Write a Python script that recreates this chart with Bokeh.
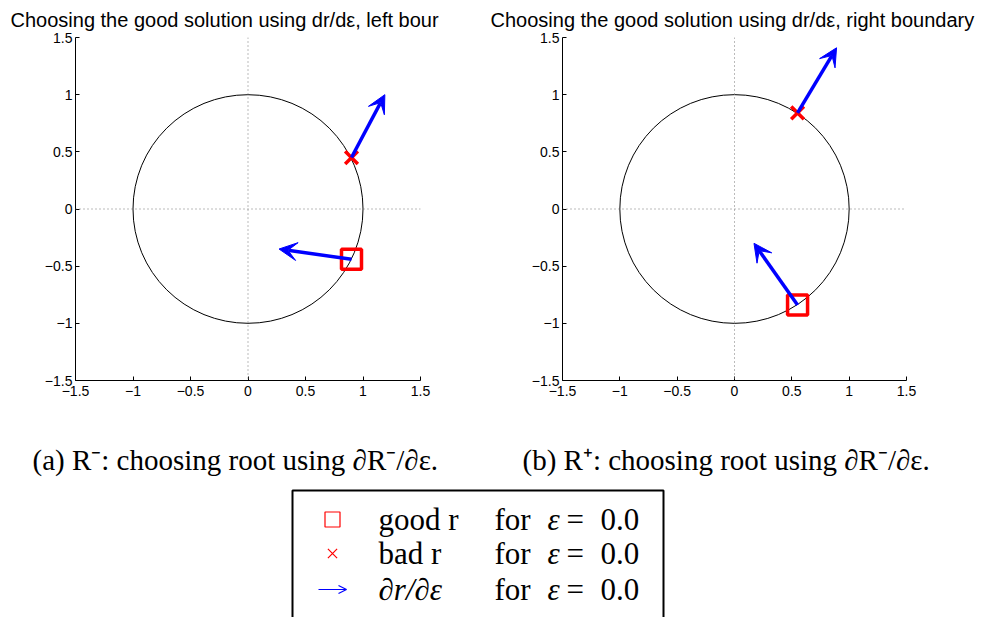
from bokeh.plotting import figure
from bokeh.models import Range1d, FixedTicker, Arrow, VeeHead, OpenHead, ColumnDataSource, Span
from bokeh.layouts import column, row
from bokeh.embed import file_html
from bokeh.resources import INLINE
from bokeh.core.properties import value

# ---------------- data ----------------
titles = ["Choosing the good solution using dr/d\u03b5, left bour",
          "Choosing the good solution using dr/d\u03b5, right boundary"]
captions = ["(a) R\u207b: choosing root using \u2202R\u207b/\u2202\u03b5.",
            "(b) R\u207a: choosing root using \u2202R\u207b/\u2202\u03b5."]
ticks = [-1.5, -1.0, -0.5, 0.0, 0.5, 1.0, 1.5]
tick_labels = ["\u22121.5", "\u22121", "\u22120.5", "0", "0.5", "1", "1.5"]

circle_x = [0.0]
circle_y = [0.0]
circle_d = [2.0]

# index 0 = left boundary panel, index 1 = right boundary panel
good_x = [0.90, 0.55]
good_y = [-0.44, -0.84]
good_tip_x = [0.27, 0.17]
good_tip_y = [-0.35, -0.30]
bad_x = [0.90, 0.55]
bad_y = [0.45, 0.84]
bad_tip_x = [1.19, 0.89]
bad_tip_y = [1.00, 1.41]

legend_labels = ["good r", "bad r", "\u2202r/\u2202\u03b5"]
legend_for = ["for", "for", "for"]
legend_eps = ["\u03b5", "\u03b5", "\u03b5"]
legend_eq = ["=", "=", "="]
legend_val = ["0.0", "0.0", "0.0"]


def make_panel(i, width, frame_left, frame_w, title_x):
    right = width - frame_left - frame_w
    p = figure(width=width, height=420,
               x_range=Range1d(-1.5, 1.5), y_range=Range1d(-1.5, 1.5),
               output_backend="svg", toolbar_location=None,
               min_border_left=frame_left, min_border_right=right,
               min_border_top=37, min_border_bottom=40)
    p.title.text = titles[i]
    p.title.align = "left"
    p.title.offset = title_x - frame_left
    p.title.text_font = "Liberation Sans"
    p.title.text_font_size = "20px"
    p.title.text_font_style = "normal"
    p.title.text_color = "black"
    p.title.standoff = 13
    p.xgrid.visible = False
    p.ygrid.visible = False
    p.outline_line_color = None
    for ax in (p.xaxis[0], p.yaxis[0]):
        ax.ticker = FixedTicker(ticks=ticks)
        ax.major_label_overrides = dict(zip(ticks, tick_labels))
        ax.major_tick_in = 4
        ax.major_tick_out = 0
        ax.minor_tick_line_color = None
        ax.axis_line_color = "black"
        ax.major_tick_line_color = "black"
        ax.major_label_text_font = "Liberation Sans"
        ax.major_label_text_font_size = "14px"
        ax.major_label_text_color = "black"
    p.yaxis[0].major_label_standoff = 3
    p.xaxis[0].major_label_standoff = 5

    p.add_layout(Span(location=0, dimension="width", line_dash="1 3",
                      line_color="#777777", line_width=1))
    p.add_layout(Span(location=0, dimension="height", line_dash="1 3",
                      line_color="#777777", line_width=1))

    p.ellipse(x=circle_x, y=circle_y, width=circle_d, height=circle_d,
              fill_color=None, line_color="black", line_width=1)

    p.scatter(x=[good_x[i]], y=[good_y[i]], marker="square", size=20,
              fill_color=None, line_color="red", line_width=3.5)
    p.scatter(x=[bad_x[i]], y=[bad_y[i]], marker="x", size=18,
              line_color="red", line_width=3.5)

    src = ColumnDataSource(dict(x0=[good_x[i], bad_x[i]], y0=[good_y[i], bad_y[i]],
                                x1=[good_tip_x[i], bad_tip_x[i]],
                                y1=[good_tip_y[i], bad_tip_y[i]]))
    p.add_layout(Arrow(x_start="x0", y_start="y0", x_end="x1", y_end="y1",
                       source=src, line_color="blue", line_width=3.5,
                       end=VeeHead(size=18, fill_color="blue", line_color="blue",
                                   line_width=1)))
    return p


p1 = make_panel(0, 440, 75, 345, 10)
p2 = make_panel(1, 543, 122, 344, 50)

# ---------------- captions + legend ----------------
p3 = figure(width=983, height=197, x_range=Range1d(0, 983), y_range=Range1d(617, 420),
            output_backend="svg", toolbar_location=None, min_border=0,
            x_axis_type=None, y_axis_type=None)
p3.xgrid.visible = False
p3.ygrid.visible = False
p3.outline_line_color = None

p3.text(x=[32, 522], y=[459, 459], text=captions,
        text_font=value("Liberation Serif"), text_font_size="29px",
        text_baseline="middle", text_align="left", text_color="black")

p3.quad(left=[292], right=[663], top=[490], bottom=[640],
        fill_color=None, line_color="black", line_width=2)

rows_y = [519, 553, 589]
p3.scatter(x=[332], y=[rows_y[0]], marker="square", size=15, fill_color=None,
           line_color="red", line_width=1.2)
p3.scatter(x=[332], y=[rows_y[1]], marker="x", size=13,
           line_color="red", line_width=1.2)
arrow_src = ColumnDataSource(dict(x0=[318], y0=[rows_y[2]], x1=[346], y1=[rows_y[2]]))
p3.add_layout(Arrow(x_start="x0", y_start="y0", x_end="x1", y_end="y1",
                    source=arrow_src, line_color="blue", line_width=1.2,
                    end=OpenHead(size=8, line_color="blue", line_width=1.2)))

p3.text(x=[378, 378], y=rows_y[:2], text=legend_labels[:2],
        text_font=value("Liberation Serif"), text_font_size="31px",
        text_baseline="middle", text_align="left", text_color="black")
p3.text(x=[378], y=rows_y[2:], text=legend_labels[2:],
        text_font=value("Liberation Serif"), text_font_size="31px",
        text_font_style="italic",
        text_baseline="middle", text_align="left", text_color="black")
p3.text(x=[494] * 3, y=rows_y, text=legend_for,
        text_font=value("Liberation Serif"), text_font_size="31px",
        text_baseline="middle", text_align="left", text_color="black")
p3.text(x=[547] * 3, y=rows_y, text=legend_eps,
        text_font=value("Liberation Serif"), text_font_size="31px",
        text_font_style="italic",
        text_baseline="middle", text_align="left", text_color="black")
p3.text(x=[566] * 3, y=rows_y, text=legend_eq,
        text_font=value("Liberation Serif"), text_font_size="31px",
        text_baseline="middle", text_align="left", text_color="black")
p3.text(x=[600] * 3, y=rows_y, text=legend_val,
        text_font=value("Liberation Serif"), text_font_size="31px",
        text_baseline="middle", text_align="left", text_color="black")

layout = column(row(p1, p2), p3)

with open("out.html", "w") as f:
    f.write(file_html(layout, INLINE))
